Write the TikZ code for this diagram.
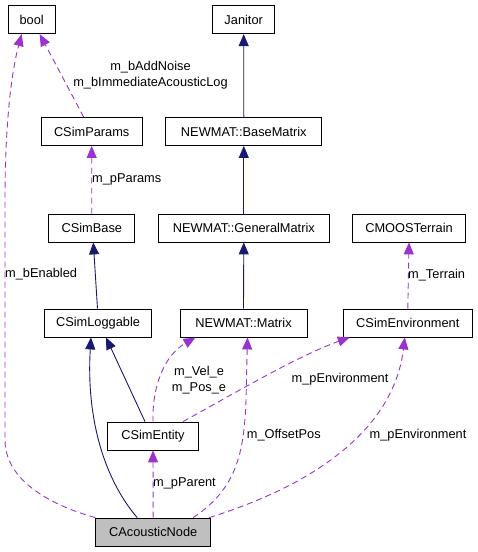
\documentclass[tikz,border=0pt]{standalone}
\usepackage{fontspec}
\setmainfont{Liberation Sans}
\usepackage{xcolor}
\usetikzlibrary{arrows.meta}
\definecolor{edgeblue}{HTML}{191970}
\definecolor{edgepurple}{HTML}{9A32CD}
\definecolor{nodegray}{HTML}{BFBFBF}
\tikzset{
	cls/.style={draw=black, line width=0.8pt, minimum height=28pt, inner sep=0pt,
			font=\fontsize{12.8}{16.6}\selectfont},
	lbl/.style={inner sep=0pt, align=center, font=\fontsize{12.8}{16.6}\selectfont},
	inherit/.style={draw=edgeblue, line width=0.9pt,
			-{Triangle[length=12pt,width=10pt]}},
	usage/.style={draw=edgepurple, line width=0.9pt, dash pattern=on 6pt off 4pt,
			-{Triangle[length=12pt,width=10pt]}}
}

\begin{document}
\begin{tikzpicture}[x=1pt, y=-1pt]
	\useasboundingbox (0,0) rectangle (477,552);

	\node[cls, minimum width=47pt] (bool) at (31.7,19.7) {bool};
	\node[cls, minimum width=62pt] (Janitor) at (243.7,19.7) {Janitor};
	\node[cls, minimum width=101pt] (CSimParams) at (91.7,131.5) {CSimParams};
	\node[cls, minimum width=156pt] (BaseMatrix) at (243.8,131.5) {NEWMAT::BaseMatrix};
	\node[cls, minimum width=86pt] (CSimBase) at (91.8,228) {CSimBase};
	\node[cls, minimum width=171pt] (GeneralMatrix) at (243.8,228) {NEWMAT::GeneralMatrix};
	\node[cls, minimum width=113pt] (CMOOSTerrain) at (409,228) {CMOOSTerrain};
	\node[cls, minimum width=107pt] (CSimLoggable) at (98,323) {CSimLoggable};
	\node[cls, minimum width=127pt] (Matrix) at (243.5,323) {NEWMAT::Matrix};
	\node[cls, minimum width=129pt] (CSimEnvironment) at (407.8,323) {CSimEnvironment};
	\node[cls, minimum width=91pt] (CSimEntity) at (153,436) {CSimEntity};
	\node[cls, minimum width=115pt, fill=nodegray] (CAcousticNode) at (153.2,532) {CAcousticNode};

	\draw[inherit] (BaseMatrix.north) -- (Janitor.south);
	\draw[inherit] (GeneralMatrix.north) -- (BaseMatrix.south);
	\draw[inherit] (Matrix.north) -- (GeneralMatrix.south);
	\draw[inherit] ([xshift=-0.5pt]CSimLoggable.north) -- ([xshift=1.5pt]CSimBase.south);
	\draw[inherit] ([xshift=-8pt]CSimEntity.north) -- ([xshift=8pt]CSimLoggable.south);
	\draw[inherit] ([xshift=-16pt]CAcousticNode.north) .. controls (105,480) and (86,420) .. ([xshift=-7pt]CSimLoggable.south);

	\draw[usage] ([xshift=-8pt]CSimParams.north) -- ([xshift=8pt]bool.south);
	\draw[usage] (CAcousticNode.north west) .. controls (50,505) and (5,480) .. (5,440) -- (5,200) .. controls (5,120) and (12,70) .. ([xshift=-10pt]bool.south);
	\draw[usage] (CSimBase.north) -- (CSimParams.south);
	\draw[usage] (CSimEnvironment.north) -- (CMOOSTerrain.south);
	\draw[usage] (CAcousticNode.north) -- (CSimEntity.south);
	\draw[usage] (CSimEntity.north) .. controls (152,385) and (165,355) .. ([xshift=-48pt]Matrix.south);
	\draw[usage] ([xshift=30pt]CSimEntity.north) .. controls (240,390) and (300,355) .. ([xshift=-58pt]CSimEnvironment.south);
	\draw[usage] ([xshift=40pt]CAcousticNode.north) .. controls (250,480) and (245,430) .. ([xshift=4pt]Matrix.south);
	\draw[usage] ([xshift=-2pt]CAcousticNode.north east) .. controls (330,480) and (395,420) .. ([xshift=-3pt]CSimEnvironment.south);

	\node[lbl] (lNoise) at (150.5,75) {m\_bAddNoise\\m\_bImmediateAcousticLog};
	\node[lbl, anchor=west] (lEnabled) at (5,274) {m\_bEnabled};
	\node[lbl, anchor=west] (lParams) at (92,179) {m\_pParams};
	\node[lbl, anchor=west] (lTerrain) at (408,275) {m\_Terrain};
	\node[lbl] (lVelPos) at (199,380) {m\_Vel\_e\\m\_Pos\_e};
	\node[lbl] (lEnvUp) at (340,379) {m\_pEnvironment};
	\node[lbl, anchor=west] (lOffset) at (246.7,435) {m\_OffsetPos};
	\node[lbl] (lEnvLow) at (418,435) {m\_pEnvironment};
	\node[lbl, anchor=west] (lParent) at (153,483) {m\_pParent};

\end{tikzpicture}
\end{document}
